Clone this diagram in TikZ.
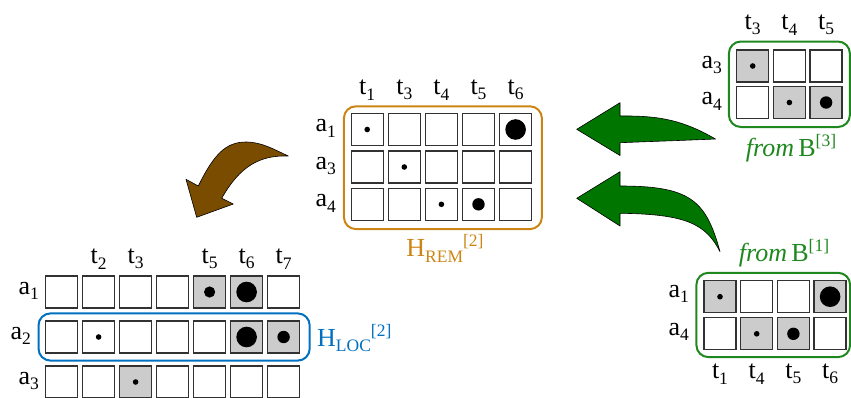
\documentclass[tikz,border=0pt]{standalone}
\usepackage{fontspec}
\setmainfont{Liberation Serif}
\usetikzlibrary{fit}
\definecolor{cellgray}{RGB}{204,204,204}
\definecolor{celledge}{RGB}{50,50,50}
\definecolor{horange}{RGB}{204,133,20}
\definecolor{hblue}{RGB}{0,112,192}
\definecolor{hgreen}{RGB}{30,135,30}
\definecolor{arrowgreen}{RGB}{0,118,0}
\definecolor{arrowbrown}{RGB}{122,76,0}
\newcommand\lsub[1]{\raisebox{-5.5pt}{\fontsize{17.5}{17.5}\selectfont #1}}
\newcommand\lsup[1]{\raisebox{10pt}{\fontsize{17.5}{17.5}\selectfont #1}}
\newcommand\lbl[2]{#1\lsub{#2}}
\tikzset{
  cellbox/.style={draw=celledge, line width=1.3pt, fill=white, minimum size=32pt,
    inner sep=0pt, outer sep=0pt},
  txt/.style={font=\fontsize{26}{30}\selectfont, inner sep=0pt},
  rowlbl/.style={txt, anchor=east},
  collbl/.style={txt},
  frame/.style={line width=2pt, rounded corners=12pt, inner sep=0pt},
  blockarrow/.style={draw=black, line width=0.6pt, line join=round},
  g-L-1-5/.style={fill=cellgray}, g-L-1-6/.style={fill=cellgray},
  g-L-2-6/.style={fill=cellgray}, g-L-2-7/.style={fill=cellgray},
  g-L-3-3/.style={fill=cellgray},
  g-T-1-1/.style={fill=cellgray}, g-T-2-2/.style={fill=cellgray}, g-T-2-3/.style={fill=cellgray},
  g-B-1-1/.style={fill=cellgray}, g-B-1-4/.style={fill=cellgray},
  g-B-2-2/.style={fill=cellgray}, g-B-2-3/.style={fill=cellgray},
}
\begin{document}
\begin{tikzpicture}[x=1pt,y=-1pt]
\useasboundingbox (0,0) rectangle (851,397);

% ---------- bottom-left grid (H_LOC) ----------
\foreach \r/\y in {1/292,2/337,3/382}
  \foreach \c in {1,...,7}
    \node[cellbox, g-L-\r-\c/.try] (L-\r-\c) at ({61.6+37*(\c-1)},\y) {};
\node[rowlbl] (La1) at (39,291) {\lbl{a}{1}};
\node[rowlbl] (La2) at (31,336) {\lbl{a}{2}};
\node[rowlbl] (La3) at (39,381) {\lbl{a}{3}};
\node[collbl] (Lt2) at (98.6,259) {\lbl{t}{2}};
\node[collbl] (Lt3) at (135.6,259) {\lbl{t}{3}};
\node[collbl] (Lt5) at (209.6,259) {\lbl{t}{5}};
\node[collbl] (Lt6) at (246.6,259) {\lbl{t}{6}};
\node[collbl] (Lt7) at (283.6,259) {\lbl{t}{7}};
\fill (L-1-5) circle[radius=5.6pt];
\fill (L-1-6) circle[radius=10.3pt];
\fill (L-2-2) circle[radius=2.8pt];
\fill (L-2-6) circle[radius=10.3pt];
\fill (L-2-7) circle[radius=6.2pt];
\fill (L-3-3) circle[radius=2.8pt];
\node[frame, draw=hblue, inner xsep=8.6pt, inner ysep=7.6pt, xshift=1.5pt,
      fit=(L-2-1)(L-2-7)] (Hloc) {};
\node[txt, text=hblue, anchor=base west] (HlocL) at (317,346)
  {H\lsub{LOC}\lsup{[2]}};

% ---------- middle grid (H_REM) ----------
\foreach \r/\y in {1/129.5,2/167,3/204.3}
  \foreach \c in {1,...,5}
    \node[cellbox] (M-\r-\c) at ({367.2+37.1*(\c-1)},\y) {};
\node[rowlbl] (Ma1) at (336,128.5) {\lbl{a}{1}};
\node[rowlbl] (Ma3) at (336,166) {\lbl{a}{3}};
\node[rowlbl] (Ma4) at (336,203.3) {\lbl{a}{4}};
\foreach \c/\t in {1/1,2/3,3/4,4/5,5/6}
  \node[collbl] (Mt\t) at ({367.2+37.1*(\c-1)},90) {\lbl{t}{\t}};
\fill (M-1-1) circle[radius=2.8pt];
\fill (M-1-5) circle[radius=10.3pt];
\fill (M-2-2) circle[radius=2.8pt];
\fill (M-3-3) circle[radius=2.8pt];
\fill (M-3-4) circle[radius=6.2pt];
\node[frame, draw=horange, inner xsep=8.8pt, inner ysep=8pt, xshift=1.5pt, yshift=-0.8pt,
      fit=(M-1-1)(M-3-5)] (Hrem) {};
\node[txt, text=horange, anchor=base] (HremL) at (445,256.7)
  {H\lsub{REM}\lsup{[2]}};

% ---------- top-right grid (from B[3]) ----------
\foreach \r/\y in {1/66,2/102.5}
  \foreach \c in {1,...,3}
    \node[cellbox, g-T-\r-\c/.try] (T-\r-\c) at ({752.7+36.7*(\c-1)},\y) {};
\node[rowlbl] (Ta3) at (722,65) {\lbl{a}{3}};
\node[rowlbl] (Ta4) at (722,101.5) {\lbl{a}{4}};
\foreach \c/\t in {1/3,2/4,3/5}
  \node[collbl] (Tt\t) at ({752.7+36.7*(\c-1)},25) {\lbl{t}{\t}};
\fill (T-1-1) circle[radius=2.8pt];
\fill (T-2-2) circle[radius=2.8pt];
\fill (T-2-3) circle[radius=6.2pt];
\node[frame, draw=hgreen, inner xsep=7.8pt, inner ysep=8.5pt,
      fit=(T-1-1)(T-2-3)] (B3) {};
\node[txt, text=hgreen, anchor=base] (B3L) at (791,156.7)
  {\textit{from}\,B\lsup{[3]}};

% ---------- bottom-right grid (from B[1]) ----------
\foreach \r/\y in {1/296.7,2/333.8}
  \foreach \c in {1,...,4}
    \node[cellbox, g-B-\r-\c/.try] (B-\r-\c) at ({720+36.7*(\c-1)},\y) {};
\node[rowlbl] (Ba1) at (689,294) {\lbl{a}{1}};
\node[rowlbl] (Ba4) at (689,332) {\lbl{a}{4}};
\foreach \c/\t in {1/1,2/4,3/5,4/6}
  \node[collbl] (Bt\t) at ({720+36.7*(\c-1)},374) {\lbl{t}{\t}};
\fill (B-1-1) circle[radius=2.8pt];
\fill (B-1-4) circle[radius=10.3pt];
\fill (B-2-2) circle[radius=2.8pt];
\fill (B-2-3) circle[radius=6.2pt];
\node[frame, draw=hgreen, inner xsep=5.8pt, inner ysep=7.6pt, xshift=-1.8pt, yshift=0.3pt,
      fit=(B-1-1)(B-2-4)] (B1) {};
\node[txt, text=hgreen, anchor=base] (B1L) at (784,261)
  {\textit{from}\,B\lsup{[1]}};

% ---------- block arrows ----------
\path[blockarrow, fill=arrowgreen]
  (576.7,129.3) -- (620,102.7) -- (620,116)
  .. controls (662,115.5) and (684,121) .. (715.5,139)
  .. controls (680,140.5) and (650,141.5) .. (620,142.7)
  -- (620,155.5) -- cycle;
\path[blockarrow, fill=arrowgreen]
  (576.7,198.3) -- (620,171.7) -- (620,186)
  .. controls (690,186) and (706,200) .. (720,251.7)
  .. controls (706,224) and (686,214) .. (620,213.3)
  -- (620,226) -- cycle;
\path[blockarrow, fill=arrowbrown]
  (196.7,217.3) -- (186,179.3) -- (198.3,186)
  .. controls (214,154) and (226,142) .. (246,142)
  .. controls (262,142) and (275,150) .. (288.3,156)
  .. controls (260,155) and (240,166) .. (221.7,198.3)
  -- (233.3,204) -- cycle;
\end{tikzpicture}
\end{document}
